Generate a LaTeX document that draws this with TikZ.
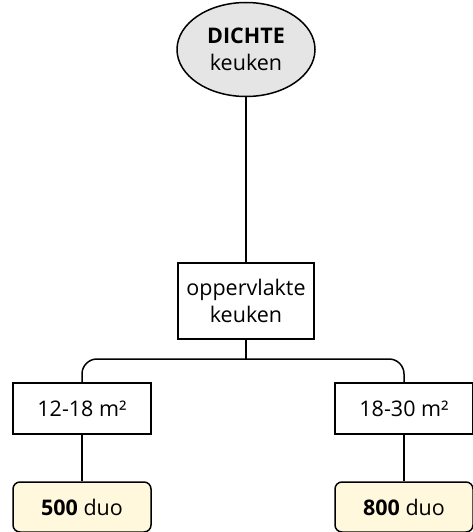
\documentclass[tikz,border=0pt]{standalone}
\usepackage{fontspec}
\setmainfont{Open Sans}
\usetikzlibrary{shapes.geometric}
\definecolor{ellfill}{HTML}{E5E5E5}
\definecolor{resfill}{HTML}{FFF8DC}
\begin{document}
\begin{tikzpicture}[x=1pt,y=-1pt,
  every node/.style={font=\fontsize{21.5}{27}\selectfont, line width=1.5pt, draw=black, inner sep=0pt, align=center},
  top/.style={ellipse, fill=ellfill, minimum width=138pt, minimum height=94pt},
  mid/.style={rectangle, fill=white, minimum width=136pt, minimum height=76pt},
  cat/.style={rectangle, fill=white, minimum width=138pt, minimum height=51pt},
  res/.style={rectangle, rounded corners=7pt, fill=resfill, minimum width=138pt, minimum height=50pt},
  conn/.style={line width=1.5pt, draw=black}]
\useasboundingbox (0,0) rectangle (473,532);
\node[top] (d) at (246,49.5) {\textbf{DICHTE}\\keuken};
\node[mid] (o) at (246,301) {oppervlakte\\keuken};
\node[cat] (a) at (82,408.5) {12-18 m²};
\node[cat] (b) at (404,408.5) {18-30 m²};
\node[res] (ra) at (82,507) {\textbf{500} duo};
\node[res] (rb) at (404,507) {\textbf{800} duo};
\coordinate (j) at (246,359);
\draw[conn] (d.south) -- (o.north);
\draw[conn] (o.south) -- (j);
\draw[conn, rounded corners=15pt] (a.north) |- (j) -| (b.north);
\draw[conn] (a.south) -- (ra.north);
\draw[conn] (b.south) -- (rb.north);
\end{tikzpicture}
\end{document}
